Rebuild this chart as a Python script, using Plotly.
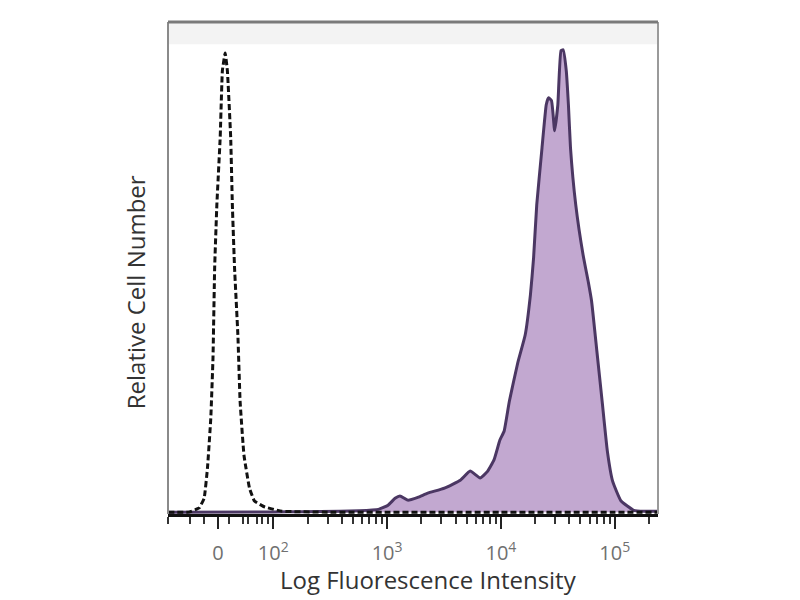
import numpy as np
import plotly.graph_objects as go

# ---------------- data (fluorescence intensity, relative cell number) ----------------
ctrl_intensity = [-90, -53, -34, -25, -19, -13, -9, -6, -2, 4, 8, 13, 17, 23, 26, 30,
                  36, 40, 47, 57, 66, 85, 119, 300, 1000, 10000, 100000, 260000]
ctrl_count = [0, 0, 0.9, 3.0, 9.5, 20.3, 33.3, 52.8, 66.5, 81, 95.5, 99.3, 95.5, 81, 66.5, 52.8,
              38.3, 24, 12.3, 5.2, 2.4, 1.1, 0.2, 0, 0, 0, 0, 0]

stain_intensity = [-90, 100, 176, 385, 568, 839, 1020, 1175, 1298, 1523, 1862, 2275, 3193, 4396,
                   5370, 6561, 7551, 8690, 9795, 10660, 11860, 14060, 16330, 18160, 19360,
                   20640, 22960, 25010, 26110, 27810, 29650, 31620, 33720, 35180, 37500,
                   39170, 40850, 45410, 52720, 58730, 62520, 69660, 77450, 86100, 95760,
                   113700, 146900, 181600, 260000]
stain_count = [0, 0.05, 0.1, 0.2, 0.3, 0.6, 1.5, 3.0, 3.5, 2.6, 3.2, 4.1, 5.2, 6.9,
               8.9, 7.4, 8.7, 11.3, 15.6, 17.5, 24.0, 32.3, 38.3, 47.0, 55.0,
               66.5, 78.8, 88.1, 89.6, 89.0, 82.5, 88.1, 99.8, 100, 95.5,
               88.1, 78.8, 66.5, 55.6, 49.6, 45.7, 34.8, 24.0, 13.2, 6.7,
               2.4, 0.4, 0.2, 0.2]

tick_values = [0, 100, 1000, 10000, 100000]
tick_labels = ["0", "10<sup>2</sup>", "10<sup>3</sup>", "10<sup>4</sup>", "10<sup>5</sup>"]
minor_values = ([-90, -50, -25, 20, 45, 55, 70, 80, 90]
                + [m * 10 ** k for k in (2, 3, 4) for m in range(2, 10)] + [200000])

# ---------------- biexponential-like display scale ----------------
LIN_W = 0.486  # width (in decades) of the linear region 0..100


def to_display(v):
    v = np.asarray(v, dtype=float)
    return np.where(v >= 100, np.log10(np.maximum(v, 100)), 2 - (100 - v) / 100 * LIN_W)


fig = go.Figure()

fig.add_trace(go.Scatter(
    x=to_display(stain_intensity), y=stain_count, mode="lines",
    line=dict(color="#4b3763", width=3, shape="spline", smoothing=0.4),
    fill="tozeroy", fillcolor="#c2a8d0", hoverinfo="skip", showlegend=False))

fig.add_trace(go.Scatter(
    x=to_display(ctrl_intensity), y=ctrl_count, mode="lines",
    line=dict(color="#111111", width=3, dash="6px,3px", shape="spline", smoothing=0.3),
    hoverinfo="skip", showlegend=False))

# the page adds an 8px body margin, so the figure is 792x592 to fit the 800x600 window
fig.update_layout(
    width=792, height=592,
    margin=dict(l=160, r=142, t=14, b=86),
    paper_bgcolor="white", plot_bgcolor="white",
    font=dict(family="Open Sans, Arial, sans-serif", color="#333333"),
    xaxis=dict(
        range=[1.075, 5.38], showgrid=False, zeroline=False,
        showline=True, linecolor="#111111", linewidth=3,
        tickmode="array", tickvals=to_display(tick_values).tolist(), ticktext=tick_labels,
        ticks="outside", ticklen=12, tickwidth=2, tickcolor="#222222",
        tickfont=dict(size=20, color="#707070"), ticklabelstandoff=7,
        minor=dict(tickmode="array", tickvals=to_display(minor_values).tolist(),
                   ticks="outside", ticklen=7, tickwidth=1.5, tickcolor="#333333"),
    ),
    yaxis=dict(range=[-0.4, 106], showgrid=False, zeroline=False, showticklabels=False,
               ticks="", showline=False),
    shapes=[
        dict(type="rect", xref="paper", yref="paper", x0=0, x1=1, y0=0.955, y1=1,
             fillcolor="#f3f3f3", line=dict(width=0), layer="below"),
        dict(type="line", xref="paper", yref="paper", x0=0, x1=0, y0=0, y1=1,
             line=dict(color="#8a8a8a", width=2)),
        dict(type="line", xref="paper", yref="paper", x0=1, x1=1, y0=0, y1=1,
             line=dict(color="#9a9a9a", width=2)),
        dict(type="line", xref="paper", yref="paper", x0=0, x1=1, y0=1, y1=1,
             line=dict(color="#7a7a7a", width=3)),
    ],
    annotations=[
        dict(text="Log Fluorescence Intensity", xref="paper", yref="paper",
             x=0.531, y=-0.134, xanchor="center", yanchor="middle", showarrow=False,
             font=dict(size=24, color="#333333")),
        dict(text="Relative Cell Number", xref="paper", yref="paper",
             x=-0.067, y=0.451, xanchor="center", yanchor="middle", showarrow=False,
             textangle=-90, font=dict(size=24, color="#333333")),
    ],
)

fig.write_html("out.html")
